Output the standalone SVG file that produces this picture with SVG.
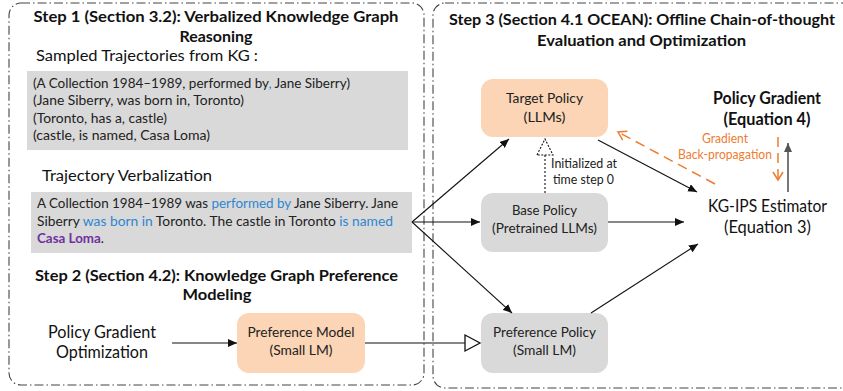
<svg xmlns="http://www.w3.org/2000/svg" width="843" height="391" viewBox="0 0 843 391">
<defs>
<style>
text{font-family:Lato,"Noto Sans","Liberation Sans",sans-serif;fill:#111}
.t{font-weight:bold;font-size:15.5px}
.h{font-size:15.5px}
.n{font-size:12.5px;fill:#222}
.b{font-size:12.5px;fill:#222;text-anchor:middle}
.big{font-size:16.5px;text-anchor:middle}
.blue{fill:#2f86d1}
.pur{fill:#7030a0;font-weight:bold}
.or{font-size:12.5px;fill:#ed7d31;text-anchor:middle}
.border{fill:none;stroke:#444;stroke-width:1.1;stroke-dasharray:9,3,1.5,3}
.peach{fill:#fbd5b5}
.gray{fill:#d9d9d9}
.ln{stroke:#111;stroke-width:1.1;fill:none}
.odash{stroke:#ed7d31;stroke-width:1.5;stroke-dasharray:10,6;fill:none}
</style>
<marker id="ah" markerUnits="userSpaceOnUse" markerWidth="10" markerHeight="8" refX="9" refY="4" orient="auto"><path d="M0,0 L9,4 L0,8 Z" fill="#111"/></marker>
<marker id="ahg" markerUnits="userSpaceOnUse" markerWidth="10" markerHeight="8" refX="9" refY="4" orient="auto"><path d="M0,0 L9,4 L0,8 Z" fill="#555"/></marker>
<marker id="oh" markerUnits="userSpaceOnUse" markerWidth="12" markerHeight="12" refX="9" refY="6" orient="auto"><path d="M1,1 L9,6 L1,11" fill="none" stroke="#ed7d31" stroke-width="1.5"/></marker>
</defs>

<g id="panel-left">
<rect class="border" x="9" y="3" width="415" height="382" rx="12"/>
<text class="t" x="216" y="22" text-anchor="middle" textLength="365" lengthAdjust="spacingAndGlyphs">Step 1 (Section 3.2):  Verbalized Knowledge Graph</text>
<text class="t" x="216" y="42" text-anchor="middle" textLength="73" lengthAdjust="spacingAndGlyphs">Reasoning</text>
</g>

<g id="sampled">
<text class="h" x="36" y="61" textLength="222" lengthAdjust="spacingAndGlyphs">Sampled Trajectories from KG :</text>
<rect class="gray" x="27" y="71" width="381" height="79"/>
<text class="n" x="33" y="88" textLength="317" lengthAdjust="spacingAndGlyphs">(A Collection 1984–1989, performed by<tspan class="blue">,</tspan> Jane Siberry)</text>
<text class="n" x="33" y="105" textLength="211" lengthAdjust="spacingAndGlyphs">(Jane Siberry, was born in, Toronto)</text>
<text class="n" x="33" y="123" textLength="134" lengthAdjust="spacingAndGlyphs">(Toronto, has a, castle)</text>
<text class="n" x="33" y="140" textLength="177" lengthAdjust="spacingAndGlyphs">(castle, is named, Casa Loma)</text>
</g>

<g id="verbalization">
<text class="h" x="42" y="181" textLength="170" lengthAdjust="spacingAndGlyphs">Trajectory Verbalization</text>
<rect class="gray" x="31" y="192" width="381" height="61"/>
<text class="n" x="37" y="208" textLength="361" lengthAdjust="spacingAndGlyphs">A Collection 1984–1989 was <tspan class="blue">performed by</tspan> Jane Siberry. Jane</text>
<text class="n" x="37" y="226" textLength="356" lengthAdjust="spacingAndGlyphs">Siberry <tspan class="blue">was born in</tspan> Toronto. The castle in Toronto <tspan class="blue">is named</tspan></text>
<text class="n" x="37" y="243" textLength="67" lengthAdjust="spacingAndGlyphs"><tspan class="pur">Casa Loma</tspan>.</text>
</g>

<g id="step2">
<text class="t" x="216.5" y="281" text-anchor="middle" textLength="363" lengthAdjust="spacingAndGlyphs">Step 2 (Section 4.2): Knowledge Graph Preference</text>
<text class="t" x="217" y="300" text-anchor="middle" textLength="69" lengthAdjust="spacingAndGlyphs">Modeling</text>
</g>

<g id="pg-opt">
<text class="big" x="102" y="338" textLength="108" lengthAdjust="spacingAndGlyphs">Policy Gradient</text>
<text class="big" x="102" y="358" textLength="92" lengthAdjust="spacingAndGlyphs">Optimization</text>
</g>

<g id="preference-model">
<rect class="peach" x="237" y="313" width="128" height="60" rx="12"/>
<text class="b" x="301" y="337" textLength="107" lengthAdjust="spacingAndGlyphs">Preference Model</text>
<text class="b" x="301" y="355" textLength="63" lengthAdjust="spacingAndGlyphs">(Small LM)</text>
</g>

<g id="panel-right">
<rect class="border" x="433" y="3" width="425" height="385" rx="12"/>
<text class="t" x="642" y="25" text-anchor="middle" textLength="386" lengthAdjust="spacingAndGlyphs">Step 3 (Section 4.1 OCEAN): Offline Chain-of-thought</text>
<text class="t" x="641.5" y="46" text-anchor="middle" textLength="209" lengthAdjust="spacingAndGlyphs">Evaluation and Optimization</text>
</g>

<g id="target-policy">
<rect class="peach" x="481" y="79" width="127" height="58" rx="12"/>
<text class="b" x="544.5" y="103" textLength="77" lengthAdjust="spacingAndGlyphs">Target Policy</text>
<text class="b" x="544.5" y="122" textLength="42" lengthAdjust="spacingAndGlyphs">(LLMs)</text>
</g>

<g id="base-policy">
<rect class="gray" x="481" y="193" width="127" height="59" rx="12"/>
<text class="b" x="544.5" y="215" textLength="65" lengthAdjust="spacingAndGlyphs">Base Policy</text>
<text class="b" x="544.5" y="233" textLength="105" lengthAdjust="spacingAndGlyphs">(Pretrained LLMs)</text>
</g>

<g id="preference-policy">
<rect class="gray" x="481" y="313" width="127" height="60" rx="12"/>
<text class="b" x="544.5" y="337" textLength="103" lengthAdjust="spacingAndGlyphs">Preference Policy</text>
<text class="b" x="544.5" y="355" textLength="63" lengthAdjust="spacingAndGlyphs">(Small LM)</text>
</g>

<g id="kg-ips">
<text class="big" x="767.5" y="212" font-size="17" textLength="119" lengthAdjust="spacingAndGlyphs">KG-IPS Estimator</text>
<text class="big" x="767.5" y="233" font-size="17" textLength="87" lengthAdjust="spacingAndGlyphs">(Equation 3)</text>
</g>

<g id="policy-gradient">
<text class="big" x="767" y="104" font-weight="bold" textLength="108" lengthAdjust="spacingAndGlyphs">Policy Gradient</text>
<text class="big" x="767" y="125" font-weight="bold" textLength="87" lengthAdjust="spacingAndGlyphs">(Equation 4)</text>
</g>

<g id="connectors">
<line class="ln" x1="172" y1="343" x2="237" y2="343" marker-end="url(#ah)"/>
<line class="ln" x1="365" y1="343" x2="465" y2="343"/>
<polygon points="465,335 480,343 465,351" fill="#fff" stroke="#111" stroke-width="1.3"/>
<line class="ln" x1="412" y1="222" x2="509" y2="139" marker-end="url(#ah)"/>
<line class="ln" x1="412" y1="222" x2="480" y2="222" marker-end="url(#ah)"/>
<line class="ln" x1="412" y1="222" x2="512" y2="313" marker-end="url(#ah)"/>
<line class="ln" x1="598" y1="140" x2="697" y2="192" marker-end="url(#ah)"/>
<line class="ln" x1="608" y1="222" x2="684" y2="222" marker-end="url(#ah)"/>
<line class="ln" x1="591" y1="313" x2="698" y2="244" marker-end="url(#ah)"/>
<line x1="545" y1="193" x2="545" y2="155" stroke="#111" stroke-width="1.1" stroke-dasharray="2,2"/>
<polygon points="537,155 545,139 553,155" fill="#fff" stroke="#111" stroke-width="1.1" stroke-dasharray="2,1.5"/>
<line x1="788" y1="192" x2="788" y2="143" stroke="#555" stroke-width="1.6" marker-end="url(#ahg)"/>
<line class="odash" x1="715" y1="184" x2="618" y2="132" marker-end="url(#oh)"/>
<line class="odash" x1="778" y1="137" x2="778" y2="180" marker-end="url(#oh)"/>
</g>

<g id="labels">
<text class="n" x="551" y="168" font-size="12" textLength="66" lengthAdjust="spacingAndGlyphs">Initialized at</text>
<text class="n" x="553" y="184" font-size="12" textLength="61" lengthAdjust="spacingAndGlyphs">time step 0</text>
<text class="or" x="725" y="143" textLength="46" lengthAdjust="spacingAndGlyphs">Gradient</text>
<text class="or" x="725" y="159" textLength="94" lengthAdjust="spacingAndGlyphs">Back-propagation</text>
</g>
</svg>
